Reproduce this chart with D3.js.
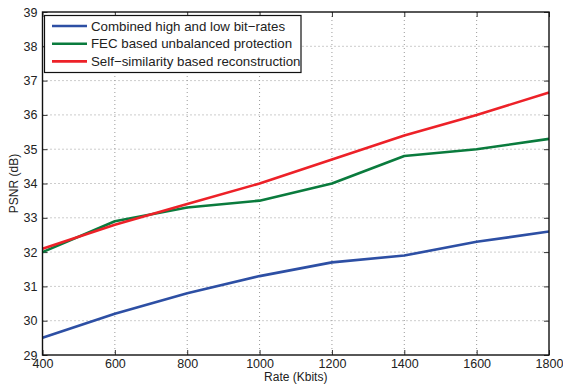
<!DOCTYPE html>
<html><head><meta charset="utf-8">
<script src="https://cdn.jsdelivr.net/npm/d3@7"></script>
<style>
html,body{margin:0;padding:0;background:#fff;}
svg{display:block;font-family:"Liberation Sans",Arial,Helvetica,sans-serif;}
</style></head>
<body>
<svg id="chart" width="563" height="387"></svg>
<script>
const rates = [400, 600, 800, 1000, 1200, 1400, 1600, 1800];
const combined = [29.5, 30.2, 30.8, 31.3, 31.7, 31.9, 32.3, 32.6];
const fec = [32.0, 32.9, 33.3, 33.5, 34.0, 34.8, 35.0, 35.3];
const selfSim = [32.1, 32.8, 33.4, 34.0, 34.7, 35.4, 36.0, 36.65];
const seriesNames = ["Combined high and low bit\u2212rates", "FEC based unbalanced protection", "Self\u2212similarity based reconstruction"];
const seriesColors = ["#2d4fa4", "#0a7b3d", "#ed2128"];
const xTicks = [400, 600, 800, 1000, 1200, 1400, 1600, 1800];
const yTicks = [29, 30, 31, 32, 33, 34, 35, 36, 37, 38, 39];
const xLabel = "Rate (Kbits)";
const yLabel = "PSNR (dB)";

const svg = d3.select("#chart");
const m = {l: 42.5, r: 549, t: 12, b: 355};
const x = d3.scaleLinear().domain([400, 1800]).range([m.l, m.r]);
const y = d3.scaleLinear().domain([29, 39]).range([m.b, m.t]);

// grid
const grid = svg.append("g").attr("stroke", "#9a9a9a").attr("stroke-width", 1).attr("stroke-dasharray", "1,3");
xTicks.slice(1, -1).forEach(v => grid.append("line").attr("x1", x(v)).attr("x2", x(v)).attr("y1", m.t).attr("y2", m.b));
yTicks.slice(1, -1).forEach(v => grid.append("line").attr("x1", m.l).attr("x2", m.r).attr("y1", y(v)).attr("y2", y(v)));

// axes
const fs = "12.5px";
const ax = svg.append("g").attr("transform", `translate(0,${m.b})`)
  .call(d3.axisBottom(x).tickValues(xTicks).tickSize(-5).tickPadding(7).tickFormat(d3.format("d")));
const axT = svg.append("g").attr("transform", `translate(0,${m.t})`)
  .call(d3.axisTop(x).tickValues(xTicks).tickSize(-5).tickFormat(""));
const ay = svg.append("g").attr("transform", `translate(${m.l},0)`)
  .call(d3.axisLeft(y).tickValues(yTicks).tickSize(-5).tickPadding(5).tickFormat(d3.format("d")));
const ayR = svg.append("g").attr("transform", `translate(${m.r},0)`)
  .call(d3.axisRight(y).tickValues(yTicks).tickSize(-5).tickFormat(""));
[ax, axT, ay, ayR].forEach(g => {
  g.select(".domain").remove();
  g.selectAll("line").attr("stroke", "#333");
  g.selectAll("text").attr("font-size", fs).attr("fill", "#222").attr("font-family", "Liberation Sans, Arial, sans-serif");
});
ax.selectAll("text").attr("dy", "0.45em");

// lines
const line = d3.line().x((d, i) => x(rates[i])).y(d => y(d));
[combined, fec, selfSim].forEach((s, k) => {
  svg.append("path").datum(s).attr("d", line).attr("fill", "none")
    .attr("stroke", seriesColors[k]).attr("stroke-width", 2.6).attr("stroke-linejoin", "round");
});

// frame
svg.append("rect").attr("x", m.l).attr("y", m.t).attr("width", m.r - m.l).attr("height", m.b - m.t)
  .attr("fill", "none").attr("stroke", "#111").attr("stroke-width", 1.4);

// labels
svg.append("text").attr("x", (m.l + m.r) / 2).attr("y", 381).attr("text-anchor", "middle")
  .attr("font-size", "12px").attr("fill", "#222").text(xLabel);
svg.append("text").attr("transform", `translate(14,${(m.t + m.b) / 2}) rotate(-90)`).attr("text-anchor", "middle")
  .attr("font-size", "12px").attr("fill", "#222").attr("dy", "0.35em").text(yLabel);

// legend
const lg = svg.append("g");
lg.append("rect").attr("x", 44.5).attr("y", 15.5).attr("width", 256.5).attr("height", 57)
  .attr("fill", "#fff").attr("stroke", "#111").attr("stroke-width", 1.2);
seriesNames.forEach((n, k) => {
  const yy = 26 + k * 17.7;
  lg.append("line").attr("x1", 52).attr("x2", 87).attr("y1", yy).attr("y2", yy)
    .attr("stroke", seriesColors[k]).attr("stroke-width", 2.6);
  lg.append("text").attr("x", 91).attr("y", yy).attr("dy", "0.36em").attr("font-size", "13.3px")
    .attr("fill", "#222").text(n);
});
</script>
</body></html>
